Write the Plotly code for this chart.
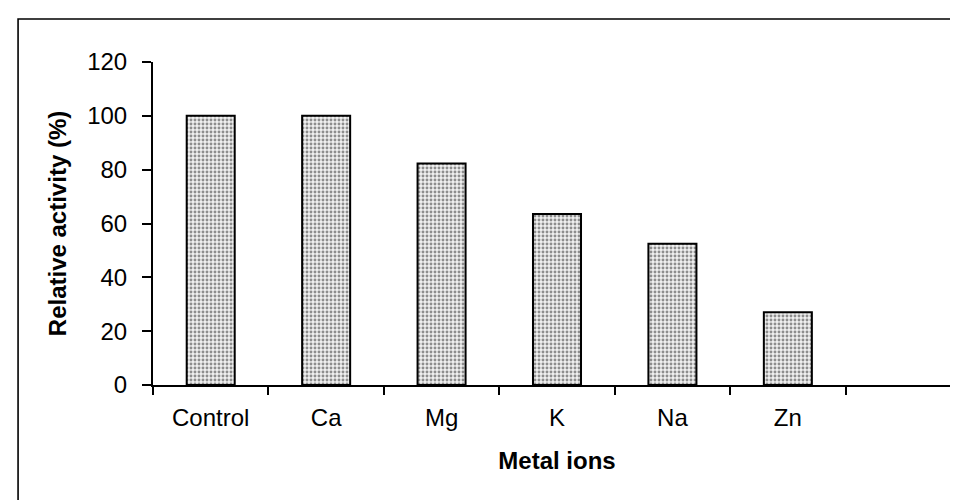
import plotly.graph_objects as go

categories = ["Control", "Ca", "Mg", "K", "Na", "Zn", " "]
activity = [100, 100, 82.3, 63.5, 52.5, 27, None]
y_ticks = [0, 20, 40, 60, 80, 100, 120]

FONT = "Liberation Sans, Arial, sans-serif"

fig = go.Figure()
fig.add_trace(go.Bar(
    x=categories,
    y=activity,
    marker=dict(
        color="white",
        line=dict(color="black", width=2),
        pattern=dict(shape=".", fgcolor="#2a2a2a", bgcolor="#f0f0f0",
                     size=4, solidity=0.42),
    ),
    showlegend=False,
))

fig.update_layout(
    width=958, height=500,
    margin=dict(l=145, r=5, t=54, b=123, autoexpand=False),
    paper_bgcolor="white", plot_bgcolor="white",
    font=dict(family=FONT, size=24, color="black"),
    bargap=0.584,
    shapes=[dict(type="rect", xref="paper", yref="paper",
                 x0=-0.167, x1=1.02, y0=-0.40, y1=1.133,
                 line=dict(color="black", width=1.6), fillcolor="rgba(0,0,0,0)",
                 layer="below")],
)

fig.update_xaxes(
    type="category",
    categoryorder="array", categoryarray=categories,
    showline=True, linecolor="black", linewidth=2,
    ticks="outside", tickson="boundaries", ticklen=8, tickwidth=2, tickcolor="black",
    ticklabelstandoff=10,
    showgrid=False, zeroline=False,
    title=dict(text="<b>Metal ions</b>", font=dict(size=24), standoff=22),
)
fig.update_yaxes(
    range=[0, 120], tickvals=y_ticks,
    showline=True, linecolor="black", linewidth=2,
    ticks="outside", ticklen=9, tickwidth=2, tickcolor="black",
    ticklabelstandoff=10,
    showgrid=False, zeroline=False,
    title=dict(text="<b>Relative activity (%)</b>", font=dict(size=24), standoff=14),
)

fig.write_html("out.html")
